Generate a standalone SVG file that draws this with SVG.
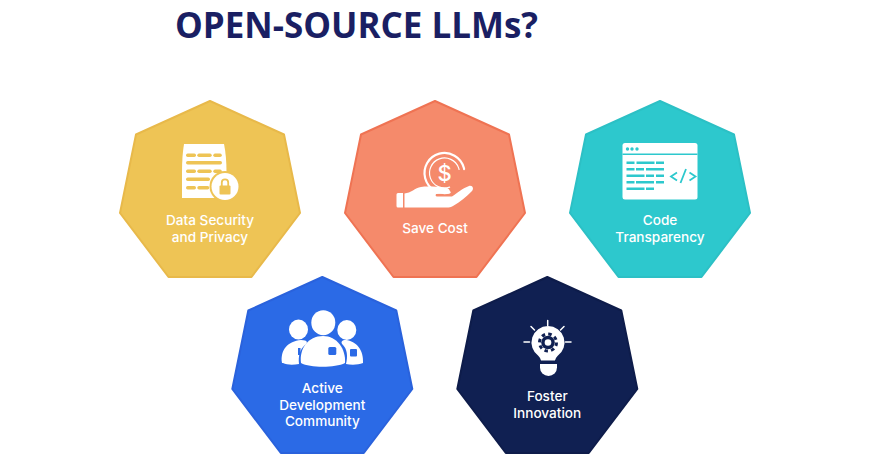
<svg xmlns="http://www.w3.org/2000/svg" width="870" height="457" viewBox="0 0 870 457">
<style>
.title{font-family:"Open Sans",sans-serif;font-weight:700;font-size:35px;fill:#1a1f63}
.lbl{font-family:Inter,"Noto Sans",sans-serif;font-weight:500;font-size:13.600px;fill:#fff;text-anchor:middle}
.hex{stroke-width:2;stroke-linejoin:round}
.w{fill:#fff}
.sl{fill:none;stroke:#fff;stroke-linecap:round}
</style>
<defs>
<polygon id="hept" class="hex" points="210,101 284,134.500 300,213 251.500,277 168.500,277 120,213 136,134.500"/>
</defs>
<rect width="870" height="457" fill="#fff"/>
<text class="title" x="175" y="38" textLength="363" lengthAdjust="spacingAndGlyphs">OPEN-SOURCE LLMs?</text>
<g id="connectors"/>

<g id="node-security">
<use href="#hept" fill="#eec455" stroke="#e8b94a"/>
<path class="w" d="M184,144 H224 Q226.500,156 226.500,172 L226.500,198 H182 V172 Q182,156 184,144Z"/>
<g fill="#eec455">
<rect x="186" y="153.500" width="10" height="3.500" rx="1.700"/><rect x="197.300" y="153.500" width="14.400" height="3.500" rx="1.700"/><rect x="213.300" y="153.500" width="8.500" height="3.500" rx="1.700"/>
<rect x="186" y="161" width="36" height="3.500" rx="1.700"/>
<rect x="186" y="169.500" width="10" height="3.500" rx="1.700"/><rect x="197.300" y="169.500" width="14.400" height="3.500" rx="1.700"/><rect x="213.300" y="169.500" width="8.500" height="3.500" rx="1.700"/>
<rect x="186" y="177.500" width="24" height="3.500" rx="1.700"/>
<rect x="186" y="186" width="10" height="3.500" rx="1.700"/><rect x="197.300" y="186" width="12" height="3.500" rx="1.700"/>
</g>
<circle cx="225" cy="186.500" r="15.500" fill="#eec455"/>
<circle cx="225" cy="186.500" r="13.500" class="w"/>
<rect x="219.500" y="185.500" width="11" height="9" rx="1" fill="#eec455"/>
<path d="M221.800,186V182.500a3.200,3.200 0 0 1 6.400,0V186" fill="none" stroke="#eec455" stroke-width="1.800"/>
<text class="lbl" x="210" y="225">Data Security</text>
<text class="lbl" x="210" y="242">and Privacy</text>
</g>

<g id="node-cost">
<use href="#hept" x="225" fill="#f58a6b" stroke="#ef7353"/>
<circle class="sl" cx="444.500" cy="173" r="20" stroke-width="2.200" stroke-dasharray="95 31" transform="rotate(75 444.500 173)"/>
<circle class="sl" cx="444.500" cy="173" r="15" stroke-width="1.200" stroke-dasharray="72 22" transform="rotate(70 444.500 173)"/>
<text x="444.500" y="181" font-family="Inter,sans-serif" font-weight="500" font-size="22" fill="#fff" text-anchor="middle">$</text>
<path class="w" d="M396.500,194.500a1.500,1.500 0 0 1 1.500,-1.500H403V207.500H398a1.500,1.500 0 0 1 -1.500,-1.500Z"/>
<path class="w" d="M404.500,193.500C411,193 415,188 421,187C428,186 437,187 445,187.500C450,188 451,192 449,193.500L436,194C435,196 436,196.500 438,196.500H452C457,193 463,188 469,186C473,185 474,189 472,191C467,196 460,202 453,206C451,207.500 449,207.500 447,207.500H404.500Z"/>
<text class="lbl" x="435" y="233">Save Cost</text>
</g>

<g id="node-code">
<use href="#hept" x="450" fill="#2dc8cd" stroke="#2cc0c5"/>
<rect class="w" x="622.500" y="143" width="75" height="56.500" rx="2.500"/>
<rect x="622.500" y="153.500" width="75" height="1.500" fill="#2dc8cd"/>
<g fill="#2dc8cd">
<circle cx="627.500" cy="149" r="1.700"/><circle cx="632" cy="149" r="1.700"/><circle cx="637" cy="149" r="1.700"/>
<rect x="626.500" y="161.500" width="8" height="2.500"/><rect x="636.500" y="161.500" width="18" height="2.500"/><rect x="656" y="161.500" width="8" height="2.500"/>
<rect x="626.500" y="168" width="8" height="2.500"/><rect x="636" y="168" width="8" height="2.500"/><rect x="646" y="168" width="18" height="2.500"/>
<rect x="626.500" y="174.500" width="18" height="2.500"/><rect x="646" y="174.500" width="8" height="2.500"/><rect x="656" y="174.500" width="8" height="2.500"/>
<rect x="626.500" y="181" width="8" height="2.500"/><rect x="636" y="181" width="18" height="2.500"/><rect x="656" y="181" width="8" height="2.500"/>
<rect x="626.500" y="187.500" width="18" height="2.500"/><rect x="646" y="187.500" width="8" height="2.500"/>
</g>
<path d="M677,172.500L671,176.500L677,180.500M686,169L680.500,183M689.500,172.500L695.500,176.500L689.500,180.500" fill="none" stroke="#2dc8cd" stroke-width="1.800"/>
<text class="lbl" x="660" y="225">Code</text>
<text class="lbl" x="660" y="242">Transparency</text>
</g>

<g id="node-community">
<use href="#hept" x="112.300" y="176" fill="#2b6ae6" stroke="#2a62dc"/>
<ellipse class="w" cx="298.500" cy="329.500" rx="9.500" ry="10"/>
<ellipse class="w" cx="346.800" cy="330" rx="9.500" ry="10"/>
<ellipse class="w" cx="323.300" cy="322.700" rx="12" ry="12.500"/>
<path class="w" d="M282,363C280,350 288,341 301,340C308,340 308,343 305,345C300,349 298,356 299,364C293,365 287,365 283,363Z"/>
<path class="w" d="M346,364C348,356 347,349 343,345C340,342 342,340 346,340C356,341 364,350 363,363C358,365 351,365 346,364Z"/>
<path class="w" d="M301,363C299,349 308,336 323,336C337,336 346,349 345,363C335,368 310,368 301,363Z"/>
<g fill="#2b6ae6"><rect x="328.300" y="347" width="8" height="8" rx="1.500"/><rect x="350" y="349" width="7" height="7.500" rx="1"/><rect x="298" y="348" width="2.500" height="7"/></g>
<text class="lbl" x="322.300" y="393">Active</text>
<text class="lbl" x="322.300" y="410">Development</text>
<text class="lbl" x="322.300" y="426">Community</text>
</g>

<g id="node-innovation">
<use href="#hept" x="337.300" y="176" fill="#102052" stroke="#0e1c4a"/>
<path class="w" d="M548,326a16.500,16.500 0 0 1 9.500,30q-2,2 -2.500,4.500h-14q-0.500,-2.500 -2.500,-4.500a16.500,16.500 0 0 1 9.500,-30Z"/>
<path class="w" d="M540,364H557V367.500a8.500,8.500 0 0 1 -17,0Z"/>
<circle cx="548" cy="342.500" r="6.800" fill="#102052"/>
<circle cx="548" cy="342.500" r="8.500" fill="none" stroke="#102052" stroke-width="3" stroke-dasharray="3.500 3.170"/>
<circle cx="548" cy="342.500" r="3.300" class="w"/>
<path class="sl" stroke-width="1.500" d="M547.700,320.500v5M531,326.500l3.500,3.500M564,326.500l-3.500,3.500M524,342h5.500M565.500,342h5.500"/>
<text class="lbl" x="547.300" y="401">Foster</text>
<text class="lbl" x="547.300" y="418">Innovation</text>
</g>
</svg>
